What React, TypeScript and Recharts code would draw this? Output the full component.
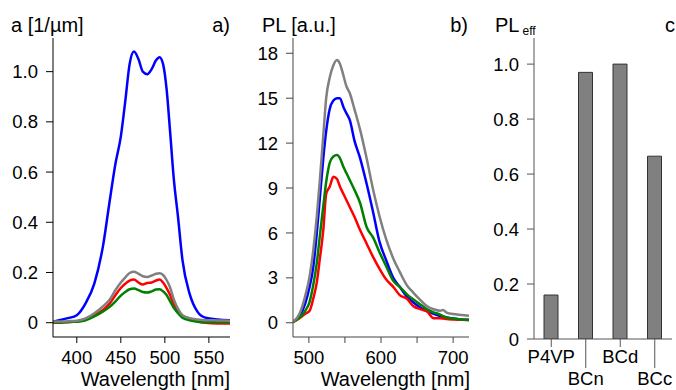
import React from 'react';
import { LineChart, Line, BarChart, Bar, XAxis, YAxis } from 'recharts';

const FONT = '"Liberation Sans", Arial, sans-serif';

// Panel a: absorption
const aWavelength = [373, 380, 390, 400, 410, 420, 430, 437, 444, 450, 455, 460, 465, 470, 475, 480, 485, 490, 494, 498, 502, 506, 510, 515, 520, 528, 537, 546, 560, 574];
const aBlue = [0.004, 0.01, 0.018, 0.03, 0.077, 0.157, 0.31, 0.476, 0.635, 0.741, 0.88, 1.03, 1.08, 1.05, 1.0, 0.99, 1.01, 1.045, 1.057, 1.03, 0.93, 0.76, 0.58, 0.42, 0.25, 0.117, 0.044, 0.02, 0.013, 0.01];
const aGray = [0.005, 0.005, 0.006, 0.008, 0.017, 0.038, 0.066, 0.09, 0.13, 0.16, 0.18, 0.198, 0.203, 0.195, 0.185, 0.182, 0.188, 0.195, 0.197, 0.19, 0.17, 0.14, 0.095, 0.055, 0.03, 0.018, 0.013, 0.01, 0.009, 0.008];
const aRed = [0.0, 0.0, 0.002, 0.005, 0.012, 0.03, 0.052, 0.075, 0.11, 0.138, 0.155, 0.168, 0.172, 0.16, 0.152, 0.158, 0.16, 0.168, 0.172, 0.16, 0.138, 0.11, 0.075, 0.045, 0.028, 0.015, 0.006, 0.0, -0.003, -0.003];
const aGreen = [0.002, 0.0, 0.003, 0.004, 0.01, 0.025, 0.045, 0.062, 0.085, 0.108, 0.122, 0.133, 0.136, 0.13, 0.122, 0.12, 0.125, 0.132, 0.133, 0.125, 0.11, 0.085, 0.06, 0.038, 0.02, 0.01, 0.004, 0.002, 0.002, 0.002];
const aXTicks = [400, 450, 500, 550];
const aYTicks = [0, 0.2, 0.4, 0.6, 0.8, 1.0];

// Panel b: photoluminescence
const bWavelength = [478, 487, 495, 501, 506, 511, 515, 520, 524, 529, 534, 539, 543, 548, 552, 557, 563, 571, 580, 589, 598, 607, 617, 626, 636, 645, 655, 664, 673, 682, 686, 691, 700, 711, 722];
const bGray = [0.07, 0.6, 1.8, 3.1, 4.8, 7.1, 9.4, 12.5, 15.0, 16.4, 17.2, 17.55, 17.3, 16.5, 15.8, 15.3, 14.3, 12.9, 11.0, 8.9, 7.1, 5.6, 4.3, 3.4, 2.5, 2.0, 1.5, 1.1, 0.9, 0.8, 0.85, 0.68, 0.58, 0.52, 0.47];
const bBlue = [0.07, 0.45, 1.3, 2.4, 3.7, 6.0, 8.2, 11.0, 12.8, 14.3, 14.85, 15.0, 15.0, 14.4, 14.0, 13.5, 12.2, 11.0, 9.3, 7.4, 5.4, 4.2, 3.0, 2.4, 1.75, 1.35, 1.0, 0.8, 0.6, 0.45, 0.4, 0.35, 0.28, 0.22, 0.18];
const bGreen = [0.05, 0.35, 0.8, 1.4, 2.5, 4.0, 5.7, 7.8, 9.4, 10.7, 11.1, 11.2, 11.0, 10.4, 10.0, 9.5, 8.9, 8.0, 6.4, 5.7, 4.7, 3.8, 2.8, 2.4, 1.9, 1.55, 1.2, 0.9, 0.7, 0.55, 0.45, 0.35, 0.28, 0.22, 0.2];
const bRed = [0.05, 0.3, 0.6, 0.8, 1.6, 2.7, 4.2, 6.2, 8.6, 9.1, 9.75, 9.6, 9.1, 8.6, 8.2, 7.7, 7.1, 6.2, 5.3, 4.4, 3.6, 2.9, 2.4, 1.85, 1.6, 1.1, 0.9, 0.75, 0.3, 0.3, 0.28, 0.25, 0.22, 0.2, 0.18];
const bXTicks = [500, 550, 600, 650, 700];
const bXLabels = [500, 600, 700];
const bYTicks = [0, 3, 6, 9, 12, 15, 18];

// Panel c: PL efficiency
const cSamples = ['P4VP', 'BCn', 'BCd', 'BCc'];
const cValues = [0.16, 0.97, 1.0, 0.665];
const cYTicks = [0, 0.2, 0.4, 0.6, 0.8, 1.0];

const aData = aWavelength.map((wl, i) => ({ wl, blue: aBlue[i], gray: aGray[i], red: aRed[i], green: aGreen[i] }));
const bData = bWavelength.map((wl, i) => ({ wl, blue: bBlue[i], gray: bGray[i], red: bRed[i], green: bGreen[i] }));
const cData = cSamples.map((name, i) => ({ name, value: cValues[i] }));

const fmt1 = (v: number) => (v === 0 ? '0' : v.toFixed(1));

const tickStyle = { fill: '#000', fontSize: 18.5, fontFamily: FONT };

const CTick = (props: any) => {
  const { x, y, payload, index } = props;
  const long = index % 2 === 1;
  return (
    <g>
      <line x1={x} x2={x} y1={y} y2={y + (long ? 29 : 8)} stroke="#555" strokeWidth={1} />
      <text x={x} y={y + (long ? 46 : 24)} textAnchor="middle" fill="#000" fontSize={18.5} fontFamily={FONT}>
        {payload.value}
      </text>
    </g>
  );
};

const series = [
  { key: 'blue', color: '#0000ff' },
  { key: 'red', color: '#ff0000' },
  { key: 'green', color: '#008000' },
  { key: 'gray', color: '#808080' },
];

export default function App() {
  return (
    <div style={{ position: 'absolute', left: 0, top: 0, width: 676, height: 390, overflow: 'hidden', background: '#fff' }}>
      <div style={{ position: 'absolute', left: 0, top: 0 }}>
        <LineChart width={240} height={390} data={aData} margin={{ top: 38, right: 10, bottom: 0, left: 0 }}>
          <XAxis dataKey="wl" type="number" domain={[373, 574]} allowDataOverflow ticks={aXTicks}
            axisLine={{ stroke: '#000' }} tickLine={{ stroke: '#000' }} tickSize={6} tickMargin={8} height={53}
            tick={tickStyle} interval={0} />
          <YAxis type="number" domain={[-0.057, 1.134]} allowDataOverflow ticks={aYTicks} tickFormatter={fmt1}
            axisLine={{ stroke: '#000' }} tickLine={{ stroke: '#000' }} tickSize={7} tickMargin={8} width={53}
            tick={tickStyle} interval={0} />
          {series.map((s) => (
            <Line key={s.key} dataKey={s.key} stroke={s.color} strokeWidth={2.5} dot={false} type="monotone" isAnimationActive={false} />
          ))}
        </LineChart>
      </div>
      <div style={{ position: 'absolute', left: 240, top: 0 }}>
        <LineChart width={240} height={390} data={bData} margin={{ top: 38, right: 11, bottom: 0, left: 0 }}>
          <XAxis dataKey="wl" type="number" domain={[478, 722]} allowDataOverflow ticks={bXTicks}
            tickFormatter={(v: number) => (bXLabels.includes(v) ? String(v) : '')}
            axisLine={{ stroke: '#444' }} tickLine={{ stroke: '#444' }} tickSize={6} tickMargin={8} height={53}
            tick={tickStyle} interval={0} />
          <YAxis type="number" domain={[-0.95, 19.02]} allowDataOverflow ticks={bYTicks}
            axisLine={{ stroke: '#444' }} tickLine={{ stroke: '#444' }} tickSize={7} tickMargin={8} width={53}
            tick={tickStyle} interval={0} />
          {series.map((s) => (
            <Line key={s.key} dataKey={s.key} stroke={s.color} strokeWidth={2.5} dot={false} type="monotone" isAnimationActive={false} />
          ))}
        </LineChart>
      </div>
      <div style={{ position: 'absolute', left: 476, top: 0 }}>
        <BarChart width={200} height={390} data={cData} margin={{ top: 38, right: 4, bottom: 0, left: 0 }} barCategoryGap={10}>
          <XAxis dataKey="name" type="category" axisLine={{ stroke: '#555' }} tickLine={false} tickSize={0} tickMargin={0}
            height={51} tick={<CTick />} interval={0} />
          <YAxis type="number" domain={[0, 1.095]} allowDataOverflow ticks={cYTicks} tickFormatter={fmt1}
            axisLine={{ stroke: '#555' }} tickLine={{ stroke: '#555' }} tickSize={7} tickMargin={8} width={58}
            tick={tickStyle} interval={0} />
          <Bar dataKey="value" fill="#808080" stroke="#333" strokeWidth={1} barSize={14} isAnimationActive={false} />
        </BarChart>
      </div>
      <svg width={676} height={390} style={{ position: 'absolute', left: 0, top: 0, pointerEvents: 'none' }}>
        <g fontFamily={FONT} fill="#000" fontSize={20}>
          <text x={11} y={32}>a [1/µm]</text>
          <text x={230} y={32} textAnchor="end">a)</text>
          <text x={230} y={386} textAnchor="end">Wavelength [nm]</text>
          <text x={262} y={32}>PL [a.u.]</text>
          <text x={468} y={32} textAnchor="end">b)</text>
          <text x={470} y={386} textAnchor="end">Wavelength [nm]</text>
          <text x={495} y={32}>PL<tspan fontSize={12} dx={3} dy={3}>eff</tspan></text>
          <text x={665} y={32}>c</text>
        </g>
      </svg>
    </div>
  );
}
